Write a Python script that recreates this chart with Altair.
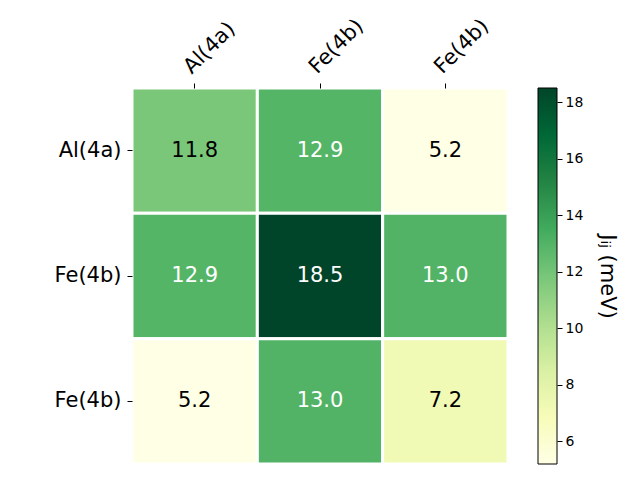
import altair as alt
import pandas as pd

row_labels = ["Al(4a)", "Fe(4b)", "Fe(4b)"]
col_labels = ["Al(4a)", "Fe(4b)", "Fe(4b)"]
values = [
    [11.8, 12.9, 5.2],
    [12.9, 18.5, 13.0],
    [5.2, 13.0, 7.2],
]
vmin, vmax = 5.2, 18.5
cbar_ticks = [6, 8, 10, 12, 14, 16, 18]
ylgn = ["#ffffe5", "#f7fcb9", "#d9f0a3", "#addd8e", "#78c679",
        "#41ab5d", "#238443", "#006837", "#004529"]

rows = []
for i, r in enumerate(row_labels):
    for j, c in enumerate(col_labels):
        rows.append({"row": i, "col": j, "val": values[i][j]})
df = pd.DataFrame(rows)

n = len(ylgn)
dom = [vmin + (vmax - vmin) * k / (n - 1) for k in range(n)]

lab_expr_x = "[" + ",".join(f"'{s}'" for s in col_labels) + "][datum.value]"
lab_expr_y = "[" + ",".join(f"'{s}'" for s in row_labels) + "][datum.value]"

FONT = "DejaVu Sans"

base = alt.Chart(df).encode(
    x=alt.X("col:O", axis=alt.Axis(orient="top", labelExpr=lab_expr_x, labelAngle=-45,
                                    labelAlign="left", labelBaseline="bottom",
                                    labelFontSize=21, labelFont=FONT, labelColor="black",
                                    tickSize=5, tickColor="black", domain=False, title=None,
                                    labelPadding=6)),
    y=alt.Y("row:O", axis=alt.Axis(orient="left", labelExpr=lab_expr_y, labelFontSize=21,
                                    labelFont=FONT, labelColor="black", tickSize=5,
                                    tickColor="black", domain=False, title=None, labelAngle=0,
                                    labelPadding=6)),
)

rect = base.mark_rect(stroke="white", strokeWidth=3).encode(
    color=alt.Color("val:Q", scale=alt.Scale(domain=dom, range=ylgn, interpolate="rgb"),
                    legend=None)
)
text = base.mark_text(fontSize=21, font=FONT).encode(
    text=alt.Text("val:Q", format=".1f"),
    color=alt.condition("datum.val > 12", alt.value("white"), alt.value("black")),
)
heat = alt.layer(rect, text)

grad = alt.LinearGradient(
    gradient="linear", x1=0, y1=1, x2=0, y2=0,
    stops=[alt.GradientStop(offset=k / (n - 1), color=c) for k, c in enumerate(ylgn)],
)
cdf = pd.DataFrame({"lo": [vmin], "hi": [vmax]})
cbar = alt.Chart(cdf).mark_rect(fill=grad, stroke="black", strokeWidth=1).encode(
    y=alt.Y("lo:Q", scale=alt.Scale(domain=[vmin, vmax], nice=False, zero=False),
            axis=alt.Axis(orient="right", offset=49, values=cbar_ticks,
                          labelFontSize=14, labelFont=FONT, labelPadding=3,
                          labelColor="black", tickColor="black", tickSize=5, domain=False,
                          grid=False, title="Jᵢⱼ (meV)", titleFont=FONT, titleFontSize=21,
                          titleFontWeight="normal", titleColor="black", titleAngle=90,
                          titlePadding=14)),
    y2="hi:Q",
    x=alt.value(406), x2=alt.value(425),
)

chart = alt.layer(heat, cbar).resolve_scale(
    y="independent", color="independent"
).resolve_axis(y="independent").properties(
    width=376, height=376,
    autosize=alt.AutoSizeParams(type="none"),
    padding={"left": 124, "top": 80, "right": 124, "bottom": 8},
).configure_view(stroke=None).configure(background="white")

chart.save("out.html", embed_options={"renderer": "svg", "actions": False})
